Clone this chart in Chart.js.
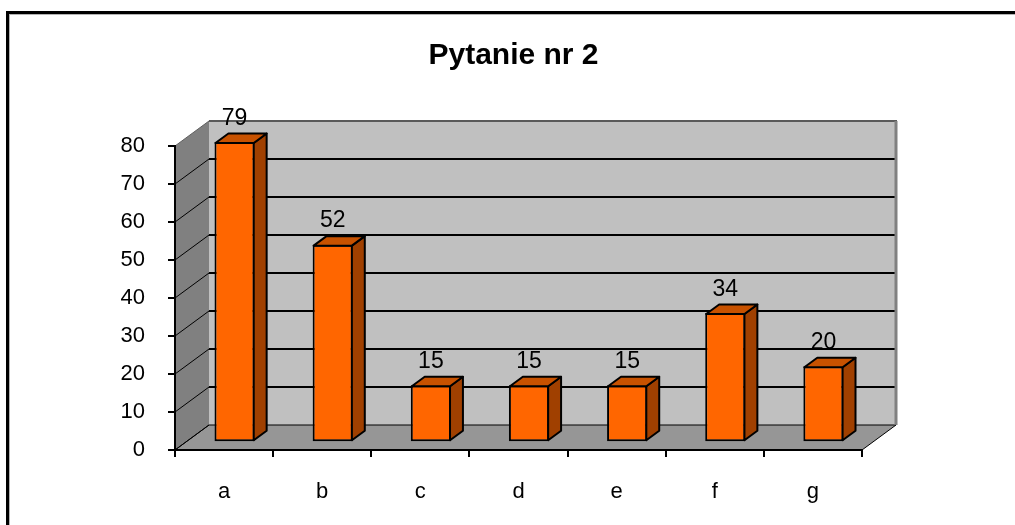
<!DOCTYPE html>
<html><head><meta charset="utf-8">
<script src="https://cdn.jsdelivr.net/npm/chart.js@4/dist/chart.umd.min.js"></script>
<style>html,body{margin:0;padding:0;background:#fff;} canvas{display:block;}</style>
</head><body>
<canvas id="c" width="1015" height="525"></canvas>
<script>
const categories = ['a', 'b', 'c', 'd', 'e', 'f', 'g'];
const values = [79, 52, 15, 15, 15, 34, 20];
const yTicks = [0, 10, 20, 30, 40, 50, 60, 70, 80];
const chartTitle = 'Pytanie nr 2';

const FONT = "Arial, 'Liberation Sans', sans-serif";
const WALL = { x: 34, y: -25 };      // depth of the 3D box
const BAR_FRONT = 0.31, BAR_BACK = 0.69; // bar depth position (fraction of WALL)

const threeD = {
  id: 'threeD',
  beforeDraw(chart) {
    const ctx = chart.ctx, a = chart.chartArea, ys = chart.scales.y;
    const L = a.left, R = a.right, T = a.top, B = a.bottom, dx = WALL.x, dy = WALL.y;
    ctx.save();
    ctx.fillStyle = '#fff';
    ctx.fillRect(0, 0, chart.width, chart.height);
    // outer frame
    ctx.fillStyle = '#000';
    ctx.fillRect(7, 11, chart.width - 7, 3);
    ctx.fillRect(6, 11, 3, chart.height - 11);
    ctx.fillStyle = '#b4b4b4';
    ctx.fillRect(9, 14, chart.width - 9, 1);
    ctx.fillRect(9, 14, 1, chart.height - 14);
    // back wall
    ctx.fillStyle = '#c0c0c0';
    ctx.fillRect(L + dx, T + dy, R - L, B - T);
    // side wall
    ctx.fillStyle = '#808080';
    ctx.beginPath();
    ctx.moveTo(L, B); ctx.lineTo(L, T); ctx.lineTo(L + dx, T + dy); ctx.lineTo(L + dx, B + dy); ctx.closePath();
    ctx.fill();
    // floor
    ctx.fillStyle = '#969696';
    ctx.beginPath();
    ctx.moveTo(L, B); ctx.lineTo(R, B); ctx.lineTo(R + dx, B + dy); ctx.lineTo(L + dx, B + dy); ctx.closePath();
    ctx.fill();
    // gridlines
    const top = yTicks[yTicks.length - 1];
    yTicks.forEach(v => {
      const yp = ys.getPixelForValue(v);
      if (v !== top) {
        ctx.strokeStyle = '#000';
        ctx.lineWidth = v === yTicks[0] ? 1 : 2;
        ctx.beginPath();
        ctx.moveTo(L + dx, yp + dy); ctx.lineTo(R + dx, yp + dy); ctx.stroke();
      }
      ctx.strokeStyle = v === top ? '#606060' : '#000';
      ctx.lineWidth = 1;
      ctx.beginPath();
      ctx.moveTo(L, yp); ctx.lineTo(L + dx, yp + dy); ctx.stroke();
    });
    // back wall border (top + right)
    ctx.strokeStyle = '#5a5a5a';
    ctx.lineWidth = 2;
    ctx.beginPath();
    ctx.moveTo(L + dx, T + dy); ctx.lineTo(R + dx + 1, T + dy); ctx.stroke();
    ctx.strokeStyle = '#808080';
    ctx.lineWidth = 3;
    ctx.beginPath();
    ctx.moveTo(R + dx, T + dy); ctx.lineTo(R + dx, B + dy); ctx.stroke();
    // floor edges
    ctx.strokeStyle = '#000';
    ctx.lineWidth = 1;
    ctx.beginPath();
    ctx.moveTo(L, B); ctx.lineTo(L + dx, B + dy);
    ctx.moveTo(R, B); ctx.lineTo(R + dx, B + dy);
    ctx.stroke();
    ctx.restore();
  },
  beforeDatasetsDraw(chart) {
    chart.ctx.save();
    chart.ctx.translate(WALL.x * BAR_FRONT, WALL.y * BAR_FRONT);
  },
  afterDatasetsDraw(chart) {
    const ctx = chart.ctx;
    ctx.restore();
    const ox = WALL.x * BAR_FRONT, oy = WALL.y * BAR_FRONT;
    const bx = WALL.x * (BAR_BACK - BAR_FRONT), by = WALL.y * (BAR_BACK - BAR_FRONT);
    const meta = chart.getDatasetMeta(0);
    ctx.save();
    ctx.lineJoin = 'round';
    meta.data.forEach((el, i) => {
      const p = el.getProps(['x', 'y', 'base', 'width'], true);
      const l = p.x - p.width / 2 + ox, r = p.x + p.width / 2 + ox;
      const t = p.y + oy, b = p.base + oy;
      // side face
      ctx.fillStyle = '#a04000';
      ctx.strokeStyle = '#000';
      ctx.lineWidth = 2;
      ctx.beginPath();
      ctx.moveTo(r - 1, t + 1); ctx.lineTo(r - 1 + bx, t + 1 + by); ctx.lineTo(r - 1 + bx, b - 1 + by); ctx.lineTo(r - 1, b - 1); ctx.closePath();
      ctx.fill(); ctx.stroke();
      // top face
      ctx.fillStyle = '#c85200';
      ctx.beginPath();
      ctx.moveTo(l + 1, t + 1); ctx.lineTo(l + 1 + bx, t + 1 + by); ctx.lineTo(r - 1 + bx, t + 1 + by); ctx.lineTo(r - 1, t + 1); ctx.closePath();
      ctx.fill(); ctx.stroke();
      // value label
      ctx.fillStyle = '#000';
      ctx.font = '23px ' + FONT;
      ctx.textAlign = 'center';
      ctx.textBaseline = 'alphabetic';
      ctx.fillText(String(values[i]), p.x + ox, t + by - 8);
    });
    ctx.restore();
  }
};

new Chart(document.getElementById('c'), {
  type: 'bar',
  data: {
    labels: categories,
    datasets: [{
      data: values,
      backgroundColor: '#FF6600',
      borderColor: '#000',
      borderWidth: 2,
      borderSkipped: false,
      barPercentage: 0.41,
      categoryPercentage: 1,
      clip: false
    }]
  },
  options: {
    responsive: false,
    animation: false,
    devicePixelRatio: 1,
    layout: { padding: { left: 12, right: 0, top: 0, bottom: 0 } },
    plugins: {
      legend: { display: false },
      tooltip: { enabled: false },
      title: {
        display: true, text: chartTitle, color: '#000',
        font: { family: FONT, size: 30, weight: 'bold', lineHeight: 1.2 },
        padding: { top: 38, bottom: 72 }
      }
    },
    scales: {
      x: {
        grid: { drawOnChartArea: false, drawTicks: true, tickLength: 7, color: '#000', lineWidth: 2, offset: true },
        border: { display: true, color: '#000', width: 2 },
        ticks: { color: '#000', font: { family: FONT, size: 22 }, padding: 22 },
        afterFit: s => { s.height = 75; }
      },
      y: {
        min: yTicks[0], max: yTicks[yTicks.length - 1],
        grid: { drawOnChartArea: false, drawTicks: true, tickLength: 7, color: '#000', lineWidth: 2 },
        border: { display: true, color: '#000', width: 2 },
        ticks: { stepSize: 10, color: '#000', font: { family: FONT, size: 22 }, padding: 23 },
        afterFit: s => { s.width = 163; }
      },
      y2: {
        position: 'right', display: true,
        grid: { display: false }, border: { display: false }, ticks: { display: false },
        afterFit: s => { s.width = 153; }
      }
    }
  },
  plugins: [threeD]
});
</script>
</body></html>
